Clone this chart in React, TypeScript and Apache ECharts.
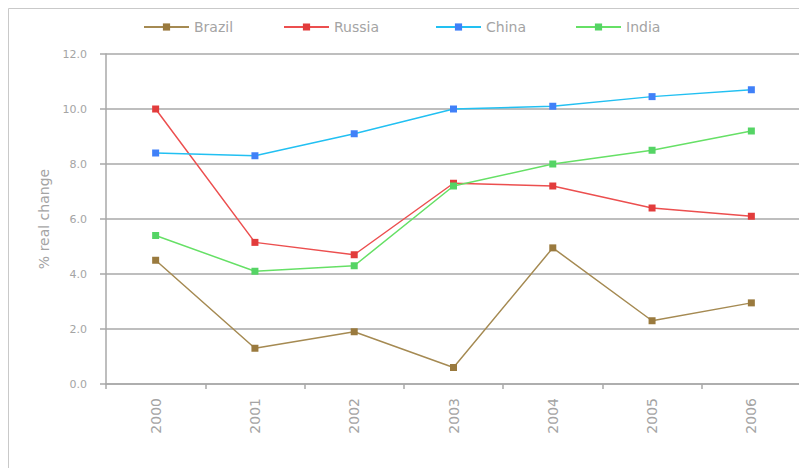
import React, { useEffect, useRef } from "react";
import * as echarts from "echarts";

// Real GDP growth, % change per year
const years = ["2000", "2001", "2002", "2003", "2004", "2005", "2006"];
const brazil = [4.5, 1.3, 1.9, 0.6, 4.95, 2.3, 2.95];
const russia = [10.0, 5.15, 4.7, 7.3, 7.2, 6.4, 6.1];
const china = [8.4, 8.3, 9.1, 10.0, 10.1, 10.45, 10.7];
const india = [5.4, 4.1, 4.3, 7.2, 8.0, 8.5, 9.2];

const yTicks = { min: 0, max: 12, step: 2 };

const seriesDefs = [
  { name: "Brazil", data: brazil, line: "#a58a52", marker: "#9a7a3e", legendLeft: 143 },
  { name: "Russia", data: russia, line: "#ec4f4f", marker: "#e23c3c", legendLeft: 283 },
  { name: "China", data: china, line: "#22c0f2", marker: "#4080f8", legendLeft: 435 },
  { name: "India", data: india, line: "#66e066", marker: "#55d465", legendLeft: 575 },
];

const FONT = "DejaVu Sans";
const TEXT = "#a4a4a4";
const GRID = "#a9a9a9";

export default function App() {
  const ref = useRef<HTMLDivElement>(null);

  useEffect(() => {
    if (!ref.current) return;
    const chart = echarts.init(ref.current, undefined, { renderer: "svg" });
    chart.setOption({
      animation: false,
      backgroundColor: "#ffffff",
      textStyle: { fontFamily: FONT },
      legend: seriesDefs.map((s) => ({
        data: [s.name],
        left: s.legendLeft,
        top: 20,
        padding: 0,
        itemWidth: 45,
        itemHeight: 9,
        itemGap: 3,
        selectedMode: false,
        textStyle: { color: TEXT, fontSize: 14, fontFamily: FONT },
      })),
      graphic: [
        {
          type: "line",
          shape: { x1: 8.5, y1: 8.5, x2: 802, y2: 8.5 },
          style: { stroke: "#c9c9c9", lineWidth: 1 },
          silent: true,
        },
        {
          type: "line",
          shape: { x1: 8.5, y1: 8.5, x2: 8.5, y2: 468 },
          style: { stroke: "#c9c9c9", lineWidth: 1 },
          silent: true,
        },
      ],
      grid: { left: 106, right: 1, top: 54, bottom: 84, containLabel: false },
      xAxis: {
        type: "category",
        data: years,
        boundaryGap: true,
        axisLine: { show: true, lineStyle: { color: GRID, width: 1.5 } },
        axisTick: { show: true, length: 5, alignWithLabel: false, lineStyle: { color: GRID, width: 1.5 } },
        axisLabel: { rotate: 90, margin: 14, color: TEXT, fontSize: 14, fontFamily: FONT },
        splitLine: { show: false },
      },
      yAxis: {
        type: "value",
        min: yTicks.min,
        max: yTicks.max,
        interval: yTicks.step,
        name: "% real change",
        nameLocation: "middle",
        nameGap: 55,
        nameTextStyle: { color: TEXT, fontSize: 14, fontFamily: FONT },
        axisLine: { show: true, lineStyle: { color: GRID, width: 1.5 } },
        axisTick: { show: true, length: 6, lineStyle: { color: GRID, width: 1.5 } },
        axisLabel: {
          margin: 19,
          color: TEXT,
          fontSize: 11,
          fontFamily: FONT,
          formatter: (v: number) => v.toFixed(1),
        },
        splitLine: { show: true, lineStyle: { color: GRID, width: 1.5 } },
      },
      series: seriesDefs.map((s) => ({
        name: s.name,
        type: "line",
        data: s.data,
        symbol: "rect",
        symbolSize: 7,
        showSymbol: true,
        lineStyle: { color: s.line, width: 1.5 },
        itemStyle: { color: s.marker },
        emphasis: { disabled: true },
      })),
    });
    return () => chart.dispose();
  }, []);

  return (
    <div
      style={{
        position: "absolute",
        left: 0,
        top: 0,
        width: 799,
        height: 468,
        overflow: "hidden",
        background: "#ffffff",
      }}
    >
      <div ref={ref} style={{ width: 802, height: 468 }} />
    </div>
  );
}
